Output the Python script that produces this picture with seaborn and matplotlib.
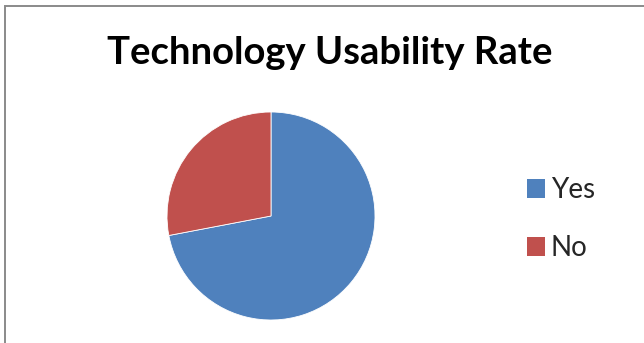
import matplotlib
matplotlib.use("Agg")
import matplotlib.pyplot as plt
from matplotlib.patches import Patch, Rectangle
import seaborn as sns

# Survey responses on technology usability
categories = ["Yes", "No"]
shares = [72, 28]
colors = ["#4F81BD", "#C0504D"]
title = "Technology Usability Rate"

sns.set_theme(style="white")
plt.rcParams["font.family"] = ["Lato", "DejaVu Sans"]

W, H = 644, 343
fig = plt.figure(figsize=(W / 100, H / 100), dpi=100)
fig.patch.set_facecolor("white")

# Pie axes: centre (271, 216) px, radius 104 px
cx, cy, r = 271, 216, 104
ax = fig.add_axes([(cx - r) / W, (H - cy - r) / H, 2 * r / W, 2 * r / H])
wedges, _ = ax.pie(
    shares,
    colors=sns.color_palette(colors),
    startangle=90,
    counterclock=False,
    radius=1.0,
    wedgeprops=dict(edgecolor="white", linewidth=0.6),
)
ax.set_xlim(-1, 1)
ax.set_ylim(-1, 1)
ax.set_aspect("equal")
ax.axis("off")

fig.text(330 / W, 1 - 64 / H, title, ha="center", va="baseline",
         fontsize=27.5, fontweight="bold", color="black")

handles = [Patch(facecolor=c, edgecolor="none") for c in colors]
leg = fig.legend(
    handles, categories,
    loc="center left", bbox_to_anchor=(513 / W, 1 - 219 / H),
    frameon=False, fontsize=20,
    handlelength=0.66, handleheight=0.66, handletextpad=0.2,
    labelspacing=1.15, borderpad=0,
)

# Outer chart border (left and top edges visible)
fig.add_artist(Rectangle((5 / W, -0.05), 1.1, 1 - 6.5 / H + 0.05,
                         transform=fig.transFigure, fill=False,
                         edgecolor="#8a8a8a", linewidth=1.4))

fig.savefig("out.png", dpi=100)
